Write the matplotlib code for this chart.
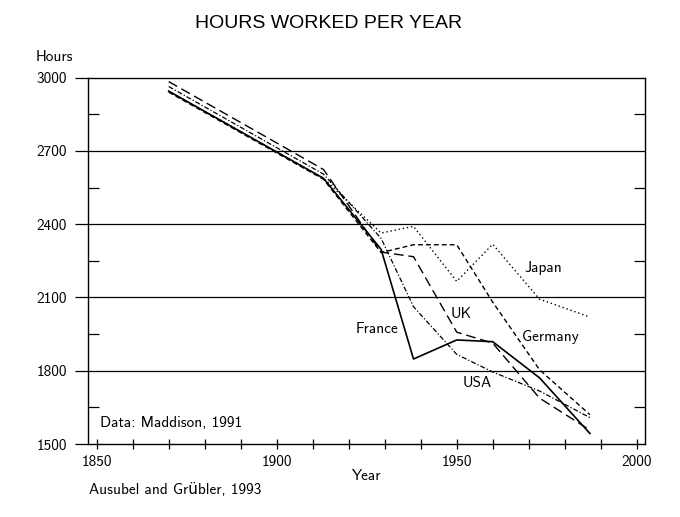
import matplotlib
matplotlib.use("Agg")
import matplotlib.pyplot as plt
from matplotlib.ticker import MultipleLocator, FixedLocator

# data (Maddison, 1991)
years = [1870, 1913, 1929, 1938, 1950, 1960, 1973, 1987]
france = [2945, 2588, 2297, 1848, 1926, 1919, 1771, 1543]
germany = [2941, 2584, 2284, 2316, 2316, 2081, 1804, 1620]
japan = [2945, 2588, 2364, 2391, 2166, 2318, 2093, 2020]
uk = [2984, 2624, 2286, 2267, 1958, 1913, 1688, 1557]
usa = [2964, 2605, 2342, 2062, 1867, 1795, 1717, 1608]

country_labels = ['Japan', 'UK', 'France', 'Germany', 'USA']
label_x = [1968.7, 1948.3, 1921.8, 1968.1, 1951.7]
label_y = [2221, 2031, 1970, 1939, 1748]

y_major = [1500, 1800, 2100, 2400, 2700, 3000]
y_minor = [1650, 1950, 2250, 2550, 2850]
x_labeled = [1850, 1900, 1950, 2000]

sans = ['cmss10', 'DejaVu Sans']
plt.rcParams['font.family'] = sans
plt.rcParams['axes.unicode_minus'] = False

fig = plt.figure(figsize=(6.8, 5.17), dpi=100)
W, H = 680, 517
ax = fig.add_axes([88.3 / W, 1 - 444 / H, (645 - 88.3) / W, (444 - 77.7) / H])

ax.plot(years, france, color='black', lw=1.2, linestyle='-')
ax.plot(years, germany, color='black', lw=1.0, linestyle=(0, (3.5, 2.2)))
ax.plot(years, japan, color='black', lw=1.0, linestyle=(0, (1, 2)))
ax.plot(years, uk, color='black', lw=1.0, linestyle=(0, (7, 3.5)))
ax.plot(years, usa, color='black', lw=0.9, linestyle=(0, (4, 1.6, 1, 1.6)))

ax.set_xlim(1847.67, 2002.3)
ax.set_ylim(1500, 3000)

for v in y_major[1:-1]:
    ax.axhline(v, color='black', lw=0.9, zorder=0)

for s in ax.spines.values():
    s.set_linewidth(1.0)

ax.xaxis.set_major_locator(FixedLocator(x_labeled))
ax.xaxis.set_minor_locator(MultipleLocator(10))
ax.tick_params(axis='x', which='both', direction='inout', length=7.5, width=0.9,
               top=False, bottom=True, labelsize=11, pad=4)

ax.yaxis.set_major_locator(FixedLocator(y_major))
ax.yaxis.set_minor_locator(FixedLocator(y_minor))
ax.tick_params(axis='y', which='major', direction='out', length=9.5, width=0.9,
               left=True, right=False, labelsize=11, pad=6)
ax.tick_params(axis='y', which='minor', direction='in', length=8, width=0.9,
               left=True, right=True)

for name, lx, ly in zip(country_labels, label_x, label_y):
    ax.text(lx, ly, name, fontsize=11, ha='left', va='center')

ax.text(1850.9, 1586, 'Data: Maddison, 1991', fontsize=11, ha='left', va='center')

fig.text(329 / W, 1 - 24 / H, 'HOURS WORKED PER YEAR', family='Liberation Sans',
         fontsize=14, ha='center', va='center')
fig.text(36 / W, 1 - 57 / H, 'Hours', fontsize=11, ha='left', va='center')
fig.text(367 / W, 1 - 476 / H, 'Year', fontsize=11, ha='center', va='center')
fig.text(89 / W, 1 - 490 / H, 'Ausubel and Grübler, 1993', fontsize=11,
         ha='left', va='center')

fig.savefig('out.png', dpi=100)
